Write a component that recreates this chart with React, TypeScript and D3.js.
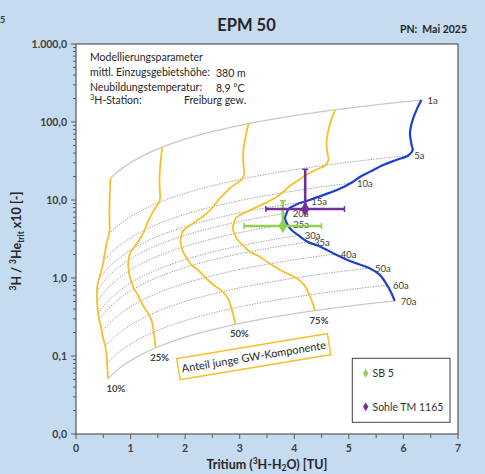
import React from "react";
import * as d3 from "d3";

const W = 485;
const H = 474;

// EPM 50 model curve (tritium [TU], 3H/3He x10 ratio)
const curveTritium = [6.33, 6.24, 6.15, 6.12, 6.15, 6.17, 6.09, 5.87, 5.63, 5.39, 5.2, 5.04, 4.78, 4.41, 4.2, 4.04, 3.9, 3.86, 3.83, 3.87, 3.94, 4.08, 4.25, 4.47, 4.74, 5.02, 5.37, 5.57, 5.7, 5.77, 5.84];
const curveRatio = [191, 143, 96, 71.6, 50.7, 43.7, 37.2, 32.6, 28.1, 23.1, 19.7, 16.5, 13.4, 10.8, 9.57, 8.75, 7.78, 6.81, 5.82, 4.92, 4.19, 3.51, 2.9, 2.54, 2.03, 1.65, 1.34, 1.09, 0.81, 0.66, 0.51];
const curveAgeLabel = ["1a", "", "", "", "", "", "5a", "", "", "", "", "10a", "", "", "15a", "", "", "20a", "", "25a", "", "30a", "35a", "", "40a", "", "50a", "", "60a", "", "70a"];

// share of young groundwater component
const youngFractions = [0.1, 0.25, 0.5, 0.75];
const fractionLabels = ["10%", "25%", "50%", "75%"];
// mixing steps along each age line (from 10% to 100% young component)
const mixFractions = [0.1, 0.12, 0.15, 0.2, 0.25, 0.3, 0.35, 0.4, 0.5, 0.6, 0.7, 0.8, 0.9, 1];

// samples
const sampleNames = ["SB 5", "Sohle TM 1165"];
const sampleColors = ["#92d050", "#7030a0"];
const sampleTritium = [3.79, 4.2];
const sampleRatio = [4.65, 7.67];
const sampleTritiumErr = [0.71, 0.72];
const sampleRatioErrUp = [5.15, 17.1];

const xTicks = [0, 1, 2, 3, 4, 5, 6, 7];
const yTicks = [1000, 100, 10, 1, 0.1, 0.01];
const yTickLabels = ["1.000,0", "100,0", "10,0", "1,0", "0,1", "0,0"];

const paramLabels = ["mittl. Einzugsgebietshöhe:", "Neubildungstemperatur:"];
const paramValues = ["380 m", "8,9 °C"];

const FONT = "Lato, 'Open Sans', sans-serif";
const YELLOW = "#f5c02b";
const BLUE = "#1b3fd0";

export default function App() {
  const left = 76, right = 458, top = 44, bottom = 434;
  const x = d3.scaleLinear().domain([0, 7]).range([left, right]);
  const y = d3.scaleLog().domain([0.01, 1000]).range([bottom, top]);

  const line = d3
    .line<[number, number]>()
    .x((d) => x(d[0]))
    .y((d) => y(d[1]))
    .curve(d3.curveCatmullRom.alpha(0.5));

  const ageIdx = curveAgeLabel.map((l, i) => (l ? i : -1)).filter((i) => i >= 0);

  const minorY: number[] = [];
  for (let e = -2; e < 3; e++) {
    for (let k = 2; k <= 9; k++) minorY.push(k * Math.pow(10, e));
  }
  const minorX = d3.range(0.5, 7, 1);

  const diamond = (size: number) => d3.symbol().type(d3.symbolDiamond).size(size)() as string;

  return (
    <svg
      width={W}
      height={H}
      style={{ position: "absolute", left: 0, top: 0 }}
      fontFamily={FONT}
    >
      <rect x={0} y={0} width={W} height={H} fill="#c5dbf0" />
      <text x={0} y={23} fontSize={9} fontWeight="bold" fill="#333">5</text>

      <text x={246.5} y={31} textAnchor="middle" fontSize={16.5} fontWeight="bold" fill="#262626">EPM 50</text>
      <text x={467} y={33} textAnchor="end" fontSize={10.5} fontWeight="bold" fill="#262626" style={{ whiteSpace: "pre" }}>PN:  Mai 2025</text>

      <defs>
        <clipPath id="plotClip">
          <rect x={left} y={top} width={right - left} height={bottom - top} />
        </clipPath>
      </defs>

      <rect x={left} y={top} width={right - left} height={bottom - top} fill="#ffffff" stroke="#595959" strokeWidth={1.2} />

      {/* parameter text */}
      <g fontSize={10.5} fill="#262626">
        <text x={90} y={61}>Modellierungsparameter</text>
        {paramLabels.map((l, i) => (
          <text key={l} x={90} y={76 + i * 14.5}>{l}</text>
        ))}
        {paramValues.map((v, i) => (
          <text key={v} x={216} y={77 + i * 14.5}>{v}</text>
        ))}
        <text x={90} y={104}>
          <tspan fontSize={7.5} dy={-4}>3</tspan>
          <tspan dy={4}>H-Station:</tspan>
        </text>
        <text x={184} y={104}>Freiburg gew.</text>
      </g>

      <g clipPath="url(#plotClip)">
        {/* mixing lines for each age */}
        {ageIdx.map((i, k) => {
          const pts = mixFractions.map((f) => [f * curveTritium[i], f * curveRatio[i]] as [number, number]);
          const solid = k === 0 || k === ageIdx.length - 1;
          return (
            <path
              key={"g" + i}
              d={line(pts) as string}
              fill="none"
              stroke={solid ? "#c8c8c8" : "#9c9c9c"}
              strokeWidth={solid ? 1.3 : 1}
              strokeDasharray={solid ? undefined : "1.3 1.3"}
            />
          );
        })}

        {/* lines of equal young-component share */}
        {youngFractions.map((f) => {
          const pts = curveTritium.map((t, i) => [f * t, f * curveRatio[i]] as [number, number]);
          return <path key={"y" + f} d={line(pts) as string} fill="none" stroke={YELLOW} strokeWidth={1.8} />;
        })}

        {/* model curve */}
        <path
          d={line(curveTritium.map((t, i) => [t, curveRatio[i]] as [number, number])) as string}
          fill="none"
          stroke={BLUE}
          strokeWidth={2.2}
        />
      </g>

      {/* age labels */}
      <g fontSize={9.5} fill="#404040">
        {ageIdx.map((i) => (
          <text key={"a" + i} x={x(curveTritium[i]) + 6} y={y(curveRatio[i]) + 4}>
            {curveAgeLabel[i]}
          </text>
        ))}
      </g>

      {/* fraction labels */}
      <g fontSize={9.5} fontWeight="bold" fill="#404040" textAnchor="middle">
        {youngFractions.map((f, k) => {
          const n = curveTritium.length - 1;
          return (
            <text key={"f" + f} x={x(f * curveTritium[n]) + (k === 0 ? 8 : 4)} y={y(f * curveRatio[n]) + 13}>
              {fractionLabels[k]}
            </text>
          );
        })}
      </g>

      {/* samples with error bars */}
      {sampleNames.map((name, i) => {
        const cx = x(sampleTritium[i]);
        const cy = y(sampleRatio[i]);
        const x0 = x(sampleTritium[i] - sampleTritiumErr[i]);
        const x1 = x(sampleTritium[i] + sampleTritiumErr[i]);
        const yTop = y(sampleRatio[i] + sampleRatioErrUp[i]);
        const c = sampleColors[i];
        return (
          <g key={name} stroke={c} strokeWidth={2.6}>
            <line x1={x0} x2={x1} y1={cy} y2={cy} />
            <line x1={x0} x2={x0} y1={cy - 3} y2={cy + 3} strokeWidth={1.5} />
            <line x1={x1} x2={x1} y1={cy - 3} y2={cy + 3} strokeWidth={1.5} />
            <line x1={cx} x2={cx} y1={cy} y2={yTop} />
            <line x1={cx - 3} x2={cx + 3} y1={yTop} y2={yTop} strokeWidth={1.5} />
            <path d={diamond(60)} transform={`translate(${cx},${cy})`} fill={c} stroke="none" />
          </g>
        );
      })}

      {/* axes ticks */}
      <g stroke="#595959" strokeWidth={1}>
        {yTicks.map((v) => (
          <line key={"yt" + v} x1={left - 5} x2={left} y1={y(v)} y2={y(v)} />
        ))}
        {minorY.map((v) => (
          <line key={"ym" + v} x1={left - 3} x2={left} y1={y(v)} y2={y(v)} />
        ))}
        {xTicks.map((v) => (
          <line key={"xt" + v} x1={x(v)} x2={x(v)} y1={bottom} y2={bottom + 5} />
        ))}
        {minorX.map((v) => (
          <line key={"xm" + v} x1={x(v)} x2={x(v)} y1={bottom} y2={bottom + 4} />
        ))}
      </g>
      <g fontSize={10.5} fontWeight="bold" fill="#404040">
        {yTicks.map((v, i) => (
          <text key={"yl" + v} x={67} y={y(v) + 4} textAnchor="end">{yTickLabels[i]}</text>
        ))}
        {xTicks.map((v) => (
          <text key={"xl" + v} x={x(v)} y={451.5} textAnchor="middle">{v}</text>
        ))}
      </g>

      {/* axis titles */}
      <text x={267} y={468.5} textAnchor="middle" fontSize={12.5} fontWeight="bold" fill="#262626">
        <tspan>Tritium (</tspan>
        <tspan fontSize={8.5} dy={-5}>3</tspan>
        <tspan dy={5}>H-H</tspan>
        <tspan fontSize={8.5} dy={2.5}>2</tspan>
        <tspan dy={-2.5}>O) [TU]</tspan>
      </text>
      <text
        transform="translate(21,241) rotate(-90)"
        textAnchor="middle"
        fontSize={12.5}
        fontWeight="bold"
        fill="#262626"
      >
        <tspan fontSize={8.5} dy={-5}>3</tspan>
        <tspan dy={5}>H / </tspan>
        <tspan fontSize={8.5} dy={-5}>3</tspan>
        <tspan dy={5}>He</tspan>
        <tspan fontSize={8.5} dy={3}>trit</tspan>
        <tspan dy={-3}> x10 [-]</tspan>
      </text>

      {/* share annotation box */}
      <g transform="translate(253.7,356.6) rotate(-9.4)">
        <rect x={-76.3} y={-10.6} width={152.7} height={21.3} fill="#ffffff" stroke={YELLOW} strokeWidth={1.5} />
        <text x={0} y={4} textAnchor="middle" fontSize={11} fill="#262626">Anteil junge GW-Komponente</text>
      </g>

      {/* legend */}
      <rect x={352.3} y={358.3} width={97.7} height={64} fill="#ffffff" stroke="#404040" strokeWidth={1} />
      {sampleNames.map((name, i) => (
        <g key={"lg" + name}>
          <path d={diamond(24)} transform={`translate(365.7,${373.3 + i * 33.4})`} fill={sampleColors[i]} />
          <text x={372.5} y={373.3 + i * 33.4 + 4} fontSize={10.5} fill="#333">{name}</text>
        </g>
      ))}
    </svg>
  );
}
